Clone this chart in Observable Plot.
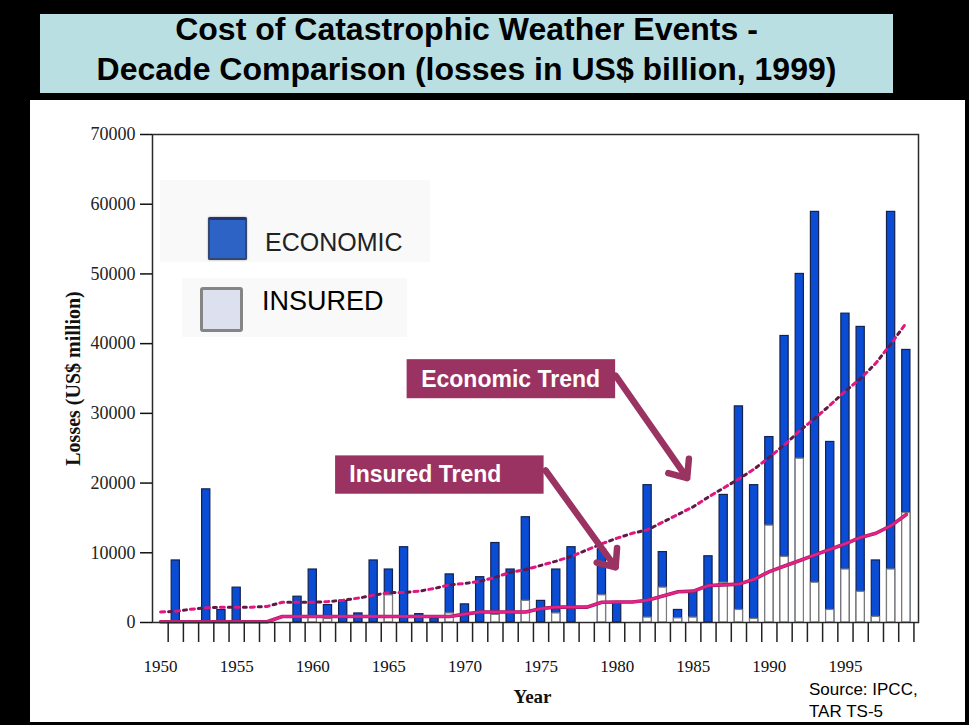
<!DOCTYPE html>
<html>
<head>
<meta charset="utf-8">
<script src="https://cdn.jsdelivr.net/npm/d3@7"></script>
<script src="https://cdn.jsdelivr.net/npm/@observablehq/plot@0.6"></script>
<style>
  html, body { margin: 0; padding: 0; background: #000; }
  body { width: 969px; height: 725px; position: relative; overflow: hidden; font-family: "Liberation Sans", Arial, sans-serif; }
  .abs { position: absolute; }
  #title { left: 40px; top: 14px; width: 853px; height: 79px; background: #b9dfe2; }
  #titleText { left: 40px; top: 9px; width: 853px; text-align: center; font-weight: bold; font-size: 32px; line-height: 40px; color: #000; }
  #panel { left: 30px; top: 100px; width: 935px; height: 622px; background: #fff; }
  .lgbox { background: #f9f9f9; }
  #source { left: 809px; top: 679px; font-size: 17px; line-height: 22px; color: #000; }
</style>
</head>
<body>
<div id="title" class="abs"></div>
<div id="titleText" class="abs">Cost of Catastrophic Weather Events -<br>Decade Comparison (losses in US$ billion, 1999)</div>
<div id="panel" class="abs"></div>
<div id="legend"></div>
<div id="source" class="abs">Source: IPCC,<br>TAR TS-5</div>
<script>
// ---- data (US$ million) ----
const years = d3.range(1950, 2000);
const economic = [
  0, 8900, 0, 19100, 1800, 5000, 0, 0, 0, 3700,
  7600, 2500, 3100, 1300, 8900, 7600, 10800, 1200, 600, 6900,
  2600, 6500, 11400, 7600, 15100, 3100, 7600, 10800, 0, 10500,
  2800, 0, 19700, 10100, 1800, 4400, 9500, 18300, 31000, 19700,
  26600, 41100, 50000, 58900, 25900, 44300, 42400, 8900, 58900, 39100
];
const insured = [
  0, 0, 0, 0, 0, 0, 0, 0, 0, 0,
  700, 500, 0, 0, 0, 3900, 0, 0, 0, 1300,
  0, 0, 1100, 0, 3100, 0, 1300, 0, 0, 3900,
  0, 0, 700, 5000, 600, 700, 0, 5700, 1800, 500,
  13900, 9400, 23500, 5700, 1800, 7600, 4400, 800, 7600, 15700
];
const economicTrend = [
  1500, 1600, 1900, 2100, 2200, 2200, 2200, 2300, 2900, 2900,
  2900, 3000, 3200, 3500, 3900, 4300, 4300, 4500, 4900, 5400,
  5600, 5900, 6500, 7200, 7600, 8200, 8800, 9500, 10400, 11300,
  12100, 12800, 13300, 14400, 15500, 16600, 18000, 19300, 20600, 22000,
  23700, 25500, 27500, 29300, 31200, 33200, 35000, 37200, 40000, 43000
];
const insuredTrend = [
  100, 100, 100, 100, 100, 100, 100, 100, 850, 850,
  850, 850, 850, 850, 850, 850, 850, 850, 850, 850,
  1200, 1500, 1500, 1500, 1500, 2000, 2200, 2200, 2200, 2900,
  2950, 2950, 3200, 3800, 4400, 4500, 5300, 5400, 5500, 6200,
  7300, 8100, 8900, 9700, 10500, 11300, 12200, 12800, 13900, 15500
];
const yTicks = [0, 10000, 20000, 30000, 40000, 50000, 60000, 70000];
const xLabelYears = [1950, 1955, 1960, 1965, 1970, 1975, 1980, 1985, 1990, 1995];
const annotations = [
  {label: "Economic Trend", bx1: 1966.2, bx2: 1979.9, by1: 32100, by2: 37700, tx: 1973.0, ty: 34900,
   ax1: 1979.9, ay1: 35400, ax2: 1984.6, ay2: 20700},
  {label: "Insured Trend", bx1: 1961.5, bx2: 1975.2, by1: 18400, by2: 23900, tx: 1967.4, ty: 21200,
   ax1: 1975.3, ay1: 21800, ax2: 1979.9, ay2: 7900}
];

const data = years.map((year, i) => ({
  year, economic: economic[i], insured: insured[i],
  econTrend: economicTrend[i], insTrend: insuredTrend[i]
}));
const boundaries = years.map(y => y + 0.5);
const hw = 0.27;

const chart = Plot.plot({
  width: 935,
  height: 622,
  marginLeft: 122,
  marginTop: 34,
  marginRight: 47,
  marginBottom: 100,
  style: {background: "transparent", fontFamily: "'Liberation Serif', 'Times New Roman', serif", fontSize: "16px", color: "#111"},
  x: {domain: [1949.47, 1999.8]},
  y: {domain: [0, 70000]},
  marks: [
    Plot.rect(data.filter(d => d.economic > 0), {
      x1: d => d.year - hw, x2: d => d.year + hw, y1: d => 0, y2: "economic",
      fill: "#0b4cd4", stroke: "#14224e", strokeWidth: 1.2
    }),
    Plot.rect(data.filter(d => d.insured > 0), {
      x1: d => d.year - hw, x2: d => d.year + hw, y1: d => 0, y2: "insured",
      fill: "#ffffff", stroke: "#7c7c7c", strokeWidth: 1.2
    }),
    Plot.line(data, {x: "year", y: "econTrend", stroke: "#e3157f", strokeWidth: 3, strokeDasharray: "4,11"}),
    Plot.line(data, {x: "year", y: "econTrend", stroke: "#5e1a45", strokeWidth: 3, strokeDasharray: "3,12", strokeDashoffset: -8}),
    Plot.line(data, {x: "year", y: "insTrend", stroke: "#9b1f5c", strokeWidth: 3.6}),
    Plot.line(data, {x: "year", y: "insTrend", stroke: "#e8208a", strokeWidth: 2.4}),
    Plot.frame({stroke: "#2a2a2a", strokeWidth: 1.5}),
    Plot.axisY({ticks: yTicks, tickSize: 12, tickPadding: 5, tickFormat: d => String(d), fontSize: 18, fill: "#222", label: null, strokeWidth: 1.5}),
    Plot.axisX({ticks: boundaries, tickSize: 20, tickFormat: () => "", label: null, strokeWidth: 1.5, stroke: "#222"}),
    Plot.axisX({ticks: xLabelYears, tickSize: 0, tickPadding: 37, tickFormat: d => String(d), fontSize: 17, label: null}),
    Plot.text(["Losses (US$ million)"], {text: d => d, frameAnchor: "left", textAnchor: "middle", rotate: -90, dx: -87, lineAnchor: "top", fontWeight: "bold", fontSize: 20, fill: "#111"}),
    Plot.text(["Year"], {text: d => d, frameAnchor: "bottom", dx: -3, dy: 80, fontWeight: "bold", fontSize: 19, fill: "#111"}),
    Plot.rect(annotations, {x1: "bx1", x2: "bx2", y1: "by1", y2: "by2", fill: "#9a3262"}),
    Plot.text(annotations, {x: "tx", y: "ty", text: "label", fill: "#fff", fontWeight: "bold", fontSize: 23, fontFamily: "'Liberation Sans', Arial, sans-serif"}),
    Plot.arrow(annotations, {x1: "ax1", y1: "ay1", x2: "ax2", y2: "ay2", stroke: "#9a3262", strokeWidth: 6.5, headLength: 4.5, headAngle: 80})
  ]
});
chart.style.position = "absolute";
chart.style.left = "30px";
chart.style.top = "100px";
document.body.appendChild(chart);

// legend (HTML overlay, as in the original)
const legend = document.getElementById("legend");
legend.innerHTML = `
  <div class="abs lgbox" style="left:160px;top:180px;width:270px;height:82px;"></div>
  <div class="abs" style="left:208px;top:217px;width:35px;height:38px;background:#2d63c4;border:2px solid #34476e;border-top:3px solid #23356a;border-radius:2px;box-shadow:0 0 2px #999;"></div>
  <div class="abs" style="left:265px;top:230px;font-size:25px;line-height:25px;color:#222;">ECONOMIC</div>
  <div class="abs lgbox" style="left:182px;top:278px;width:225px;height:59px;"></div>
  <div class="abs" style="left:200px;top:287px;width:37px;height:39px;background:#dde0ef;border:3px solid #858585;border-radius:3px;"></div>
  <div class="abs" style="left:262px;top:288px;font-size:27px;line-height:27px;color:#000;">INSURED</div>
`;
</script>
</body>
</html>
